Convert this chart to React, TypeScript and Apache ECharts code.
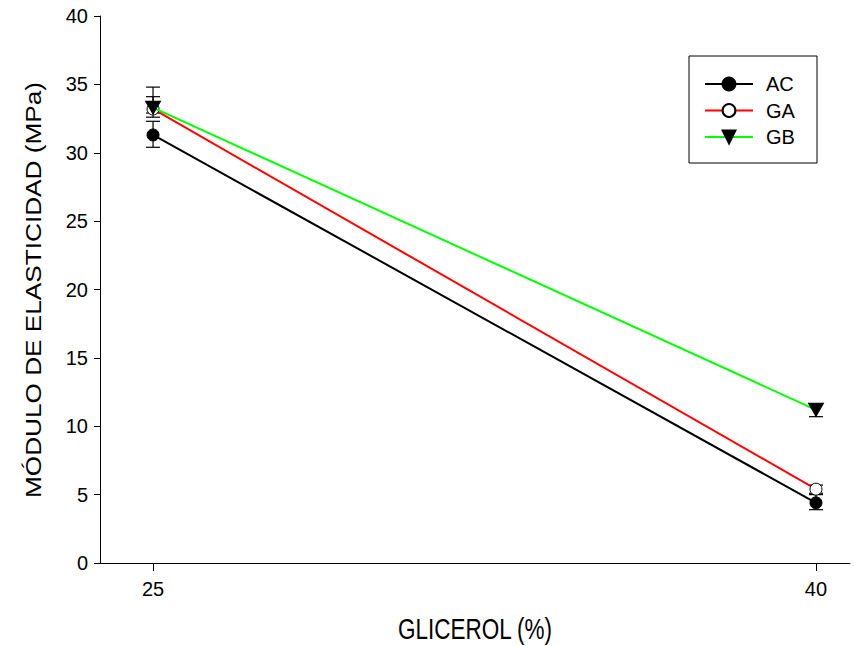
import React, { useEffect, useRef } from "react";
import * as echarts from "echarts";

const glycerol = [25, 40];
const tickValuesX = [25, 40];
const acValues = [31.3, 4.4];
const acLow = [30.4, 3.9];
const acHigh = [32.3, 5.0];
const gaValues = [33.2, 5.4];
const gaLow = [32.6, 5.1];
const gaHigh = [34.1, 5.7];
const gbValues = [33.3, 11.2];
const gbLow = [32.9, 10.7];
const gbHigh = [34.8, 11.6];
const seriesNames = ["AC", "GA", "GB"];
const xTitle = "GLICEROL (%)";
const yTitle = "MÓDULO DE ELASTICIDAD (MPa)";

const FONT = "'Liberation Sans', Arial, sans-serif";

function pairs(vals: number[]) {
  return glycerol.map((x, i) => [x, vals[i]]);
}
function errData(low: number[], high: number[]) {
  return glycerol.map((x, i) => [x, low[i], high[i]]);
}

const errorSeries = (name: string, low: number[], high: number[]) => ({
  type: "custom",
  name: name + "-err",
  z: 2,
  silent: true,
  encode: { x: 0, y: [1, 2] },
  data: errData(low, high),
  renderItem: (params: any, api: any) => {
    const x = api.value(0);
    const lo = api.coord([x, api.value(1)]);
    const hi = api.coord([x, api.value(2)]);
    const hw = 7;
    const style = { stroke: "#000", lineWidth: 1.2 };
    return {
      type: "group",
      children: [
        { type: "line", shape: { x1: lo[0], y1: lo[1], x2: hi[0], y2: hi[1] }, style },
        { type: "line", shape: { x1: lo[0] - hw, y1: lo[1], x2: lo[0] + hw, y2: lo[1] }, style },
        { type: "line", shape: { x1: hi[0] - hw, y1: hi[1], x2: hi[0] + hw, y2: hi[1] }, style },
      ],
    };
  },
});

export default function App() {
  const ref = useRef<HTMLDivElement>(null);
  useEffect(() => {
    if (!ref.current) return;
    const chart = echarts.init(ref.current, undefined, { renderer: "svg" });
    chart.setOption({
      animation: false,
      textStyle: { fontFamily: FONT },
      grid: { left: 100, top: 16, right: 4, bottom: 83, containLabel: false },
      xAxis: {
        type: "value",
        min: 23.8,
        max: 40.77,
        axisLine: { show: true, lineStyle: { color: "#000", width: 1 } },
        axisTick: { show: true, length: 8, customValues: tickValuesX, lineStyle: { color: "#000" } },
        axisLabel: { show: true, customValues: tickValuesX, fontSize: 20, color: "#000", margin: 16, fontFamily: FONT },
        splitLine: { show: false },
      },
      yAxis: {
        type: "value",
        min: 0,
        max: 40,
        interval: 5,
        axisLine: { show: true, lineStyle: { color: "#000", width: 1 } },
        axisTick: { show: true, length: 6, lineStyle: { color: "#000" } },
        axisLabel: { fontSize: 20, color: "#000", margin: 12, fontFamily: FONT },
        splitLine: { show: false },
      },
      legend: {
        data: seriesNames,
        orient: "vertical",
        left: 704,
        top: 74,
        padding: 0,
        itemWidth: 48,
        itemHeight: 16,
        itemGap: 6.5,
        textStyle: { fontSize: 20, color: "#000", fontFamily: FONT, padding: [0, 0, 0, 8] },
        selectedMode: false,
      },
      graphic: [
        {
          type: "rect",
          shape: { x: 689, y: 56, width: 128, height: 107 },
          style: { fill: "none", stroke: "#000", lineWidth: 1 },
        },
        {
          type: "text",
          x: 475,
          y: 614,
          scaleY: 1.3,
          style: {
            text: xTitle,
            fontSize: 22.5,
            fontFamily: FONT,
            fill: "#000",
            align: "center",
            verticalAlign: "top",
          },
        },
        {
          type: "text",
          x: 33,
          y: 290,
          rotation: Math.PI / 2,
          scaleX: 1.19,
          style: {
            text: yTitle,
            fontSize: 22,
            fontFamily: FONT,
            fill: "#000",
            align: "center",
            verticalAlign: "middle",
          },
        },
      ],
      series: [
        errorSeries("AC", acLow, acHigh),
        errorSeries("GA", gaLow, gaHigh),
        errorSeries("GB", gbLow, gbHigh),
        {
          type: "line",
          name: "AC",
          z: 3,
          data: pairs(acValues),
          symbol: "circle",
          symbolSize: 12,
          lineStyle: { color: "#000", width: 2 },
          itemStyle: { color: "#000", borderColor: "#000", borderWidth: 1 },
        },
        {
          type: "line",
          name: "GA",
          z: 4,
          data: pairs(gaValues),
          symbol: "circle",
          symbolSize: 12,
          lineStyle: { color: "#ff0000", width: 2 },
          itemStyle: { color: "#fff", borderColor: "#000", borderWidth: 1 },
        },
        {
          type: "line",
          name: "GB",
          z: 5,
          data: pairs(gbValues),
          symbol: "triangle",
          symbolRotate: 180,
          symbolSize: [15, 13],
          lineStyle: { color: "#00ff00", width: 2 },
          itemStyle: { color: "#000", borderColor: "#000", borderWidth: 1 },
        },
      ],
    });
    return () => chart.dispose();
  }, []);
  return <div ref={ref} style={{ width: 854, height: 646, position: "absolute", left: 0, top: 0 }} />;
}
